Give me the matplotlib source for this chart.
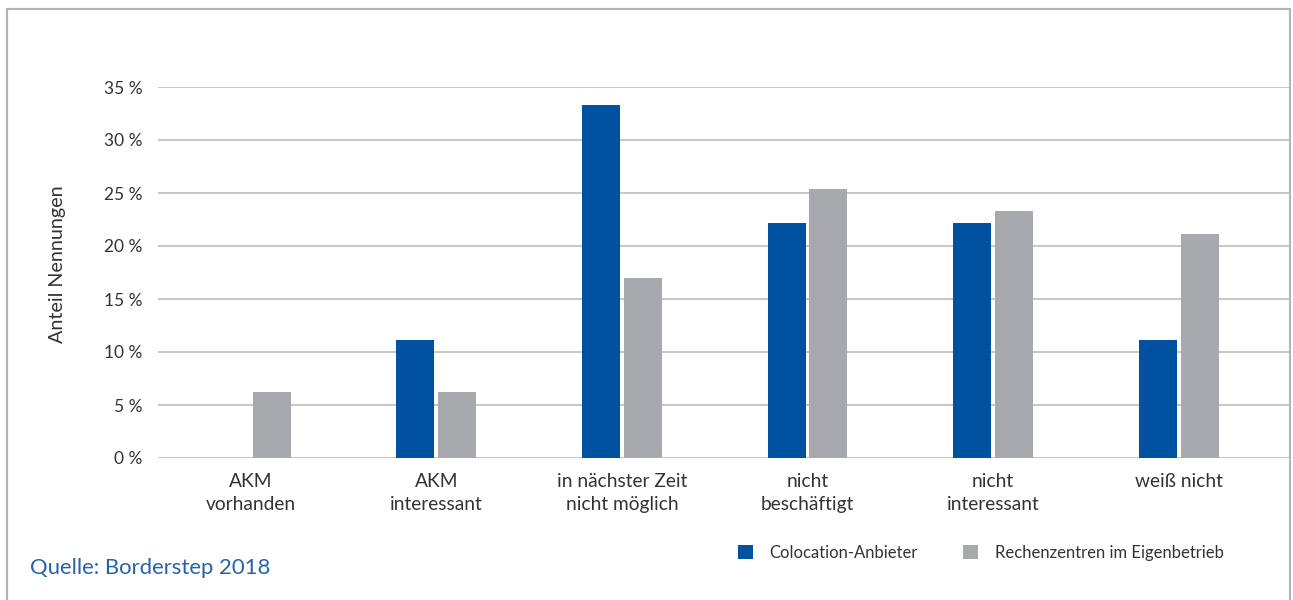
import matplotlib.pyplot as plt
import matplotlib.patches as mpatches
import numpy as np

plt.rcParams['font.family'] = ['Lato', 'DejaVu Sans']

categories = ['AKM\nvorhanden', 'AKM\ninteressant', 'in nächster Zeit\nnicht möglich',
              'nicht\nbeschäftigt', 'nicht\ninteressant', 'weiß nicht']
colocation = [0.0, 11.1, 33.3, 22.2, 22.2, 11.1]
eigenbetrieb = [6.25, 6.25, 17.0, 25.4, 23.3, 21.1]
series_names = ['Colocation-Anbieter', 'Rechenzentren im Eigenbetrieb']
yticks = [0, 5, 10, 15, 20, 25, 30, 35]

blue = '#0052a0'
gray = '#a7a9ac'
text_c = '#333333'

fig = plt.figure(figsize=(12.93, 6.0), dpi=100)
ax = fig.add_axes([158/1293, 1-458/600, (1290-158)/1293, (458-87)/600])

x = np.arange(len(categories))
w = 0.205
off = 0.113
b1 = ax.bar(x - off, colocation, w, color=blue, label=series_names[0], zorder=3)
b2 = ax.bar(x + off, eigenbetrieb, w, color=gray, label=series_names[1], zorder=3)

ax.set_xlim(-0.5, 5.6)
ax.set_ylim(0, 35)
ax.set_yticks(yticks)
ax.set_yticklabels([f'{t} %' for t in yticks], fontsize=12.5, color=text_c)
ax.set_xticks(x)
ax.set_xticklabels(categories, fontsize=13.8, color=text_c, linespacing=1.42)
ax.tick_params(axis='both', length=0)
ax.tick_params(axis='y', pad=11)
ax.tick_params(axis='x', pad=11)
ax.grid(axis='y', color='#c8c8c8', lw=1.5, zorder=0)
ax.set_axisbelow(True)
for s in ax.spines.values():
    s.set_visible(False)

fig.text(57/1293, 1-264/600, 'Anteil Nennungen', rotation=90, ha='center', va='center',
         fontsize=14.2, color=text_c)

fig.text(30/1293, 1-568/600, 'Quelle: Borderstep 2018', ha='left', va='center',
         fontsize=15.9, color='#2a62a8')

fig.legend(handles=[b1, b2], loc='center left', bbox_to_anchor=(723/1293, 1-553/600),
           ncol=2, frameon=False, fontsize=12, handlelength=0.9, handleheight=0.9,
           handletextpad=1.0, columnspacing=2.7, labelcolor=text_c)

border = mpatches.Rectangle((7/1293, -0.05), (1290-7)/1293, 1.05 - 9/600,
                            transform=fig.transFigure, fill=False,
                            edgecolor='#b4b4b4', lw=1.5)
fig.patches.append(border)

fig.savefig('out.png', dpi=100)
